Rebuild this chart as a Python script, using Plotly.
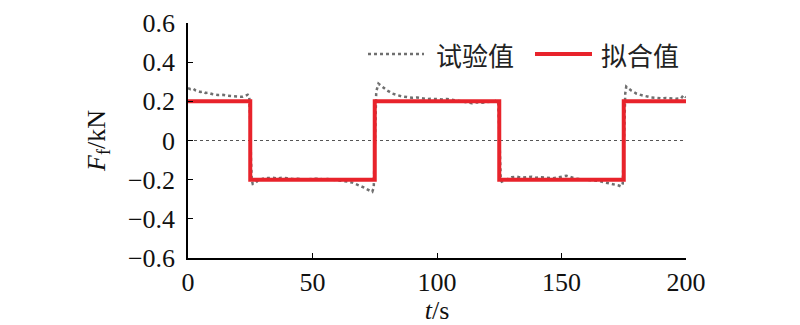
import plotly.graph_objects as go

# Experimental data (试验值)
t_exp = [0, 1, 2, 3, 4, 5, 6, 7, 8, 9, 10, 12, 14, 16, 18, 20, 21, 22, 23, 24, 24.6, 25.0, 25.3, 25.6,
         26, 27, 28, 29, 30, 32, 34, 36, 38, 40, 42, 44, 46, 48, 50, 52, 54, 56, 58, 60, 62, 64, 66, 68,
         69, 70, 71, 72, 73, 74, 74.6, 75.0, 75.3, 75.6, 76, 76.5, 77, 77.5, 78, 79, 80, 81, 82, 84, 86,
         88, 90, 92, 94, 96, 98, 100, 102, 104, 106, 108, 110, 112, 114, 116, 118, 120, 122, 123, 124,
         124.6, 125.0, 125.3, 125.6, 126, 127, 128, 130, 132, 134, 136, 138, 140, 142, 144, 146, 148,
         150, 152, 154, 156, 158, 160, 162, 164, 166, 168, 170, 171, 172, 173, 174, 174.6, 175.0, 175.3,
         175.6, 176, 176.5, 177, 178, 179, 180, 182, 184, 186, 188, 190, 192, 194, 196, 198, 199, 200]
f_exp = [0.268, 0.262, 0.265, 0.256, 0.252, 0.248, 0.250, 0.243, 0.244, 0.238, 0.236, 0.232, 0.233,
         0.228, 0.226, 0.224, 0.226, 0.223, 0.228, 0.234, 0.226, 0.10, -0.10, -0.20,
         -0.222, -0.218, -0.205, -0.200, -0.195, -0.192, -0.190, -0.194, -0.190, -0.193, -0.197, -0.195,
         -0.200, -0.198, -0.196, -0.195, -0.198, -0.197, -0.200, -0.203, -0.205, -0.210, -0.215, -0.225,
         -0.230, -0.238, -0.242, -0.250, -0.255, -0.262, -0.240, -0.10, 0.10, 0.25, 0.275, 0.290, 0.285,
         0.280, 0.272, 0.262, 0.255, 0.248, 0.240, 0.232, 0.225,
         0.222, 0.218, 0.220, 0.215, 0.212, 0.213, 0.210, 0.210, 0.212, 0.208, 0.205, 0.200, 0.196, 0.190,
         0.195, 0.193, 0.196, 0.198, 0.200, 0.205,
         0.190, 0.05, -0.12, -0.20, -0.210, -0.205, -0.200, -0.188, -0.185, -0.190, -0.188, -0.185, -0.190,
         -0.188, -0.190, -0.193, -0.190,
         -0.185, -0.180, -0.188, -0.195, -0.198, -0.200, -0.202, -0.205, -0.210, -0.215, -0.220, -0.223,
         -0.226, -0.230, -0.235, -0.220, -0.05, 0.12,
         0.24, 0.275, 0.270, 0.262, 0.255, 0.248, 0.240, 0.232, 0.225, 0.220, 0.218, 0.215, 0.217, 0.215,
         0.213, 0.215, 0.232, 0.220]

# Fitted data (拟合值)
t_fit = [0, 25, 25, 75, 75, 125, 125, 175, 175, 200]
f_fit = [0.2, 0.2, -0.2, -0.2, 0.2, 0.2, -0.2, -0.2, 0.2, 0.2]

x_ticks = [0, 50, 100, 150, 200]
y_ticks = [-0.6, -0.4, -0.2, 0, 0.2, 0.4, 0.6]
y_tick_labels = ["\u22120.6", "\u22120.4", "\u22120.2", "0", "0.2", "0.4", "0.6"]
legend_names = ["试验值", "拟合值"]

GRAY = "#6f6f6f"
RED = "#e8232b"
SERIF = "Liberation Serif"
CJK = "Noto Sans CJK SC"
FS = 26

fig = go.Figure()
fig.add_trace(go.Scatter(x=t_exp, y=f_exp, mode="lines", name=legend_names[0],
                         line=dict(color=GRAY, width=2.5, dash="dot"), showlegend=False))
fig.add_trace(go.Scatter(x=t_fit, y=f_fit, mode="lines", name=legend_names[1],
                         line=dict(color=RED, width=4), showlegend=False))

# zero reference line
fig.add_shape(type="line", xref="paper", yref="y", x0=0, x1=1, y0=0, y1=0,
              line=dict(color="#555555", width=1.2, dash="dot"), layer="below")

# manual legend (paper coords: plot spans x 188..686 px, y 23..258 px)
def px_x(p):
    return (p - 188) / (686 - 188)

def px_y(p):
    return 1 - (p - 23) / (258 - 23)

fig.add_shape(type="line", xref="paper", yref="paper", x0=px_x(368), x1=px_x(424),
              y0=px_y(54), y1=px_y(54), line=dict(color=GRAY, width=2.5, dash="dot"))
fig.add_shape(type="line", xref="paper", yref="paper", x0=px_x(535), x1=px_x(592),
              y0=px_y(54), y1=px_y(54), line=dict(color=RED, width=4))
fig.add_annotation(xref="paper", yref="paper", x=px_x(434), y=px_y(55), xanchor="left",
                   yanchor="middle", text=legend_names[0], showarrow=False,
                   font=dict(family=CJK, size=26, color="#222222"))
fig.add_annotation(xref="paper", yref="paper", x=px_x(599), y=px_y(55), xanchor="left",
                   yanchor="middle", text=legend_names[1], showarrow=False,
                   font=dict(family=CJK, size=26, color="#222222"))

fig.update_layout(
    width=800, height=325,
    margin=dict(l=188, r=114, t=23, b=67, autoexpand=False),
    paper_bgcolor="white", plot_bgcolor="white",
    font=dict(family=SERIF, size=FS, color="#111111"),
    xaxis=dict(range=[0, 200], tickvals=x_ticks, ticks="inside", ticklen=5, tickwidth=1.2,
               tickcolor="black", showline=True, linecolor="black", linewidth=1.5,
               showgrid=False, zeroline=False, mirror=False, automargin=False,
               title=dict(text="<i>t</i>/s", font=dict(family=SERIF, size=FS)),
               tickfont=dict(family=SERIF, size=FS)),
    yaxis=dict(range=[-0.6, 0.6], tickvals=y_ticks, ticktext=y_tick_labels, ticks="inside",
               ticklen=5, tickwidth=1.2, tickcolor="black", showline=True, linecolor="black",
               linewidth=1.5, showgrid=False, zeroline=False, mirror=False, automargin=False,
               ticklabelstandoff=6,
               title=dict(text="<i>F</i><sub>f</sub>/kN", font=dict(family=SERIF, size=FS)),
               tickfont=dict(family=SERIF, size=FS)),
)

fig.write_html("out.html")
